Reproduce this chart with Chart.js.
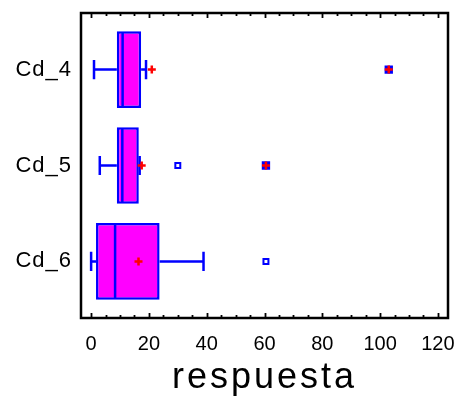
<!DOCTYPE html>
<html>
<head>
<meta charset="utf-8">
<script src="https://cdn.jsdelivr.net/npm/chart.js@4"></script>
<style>
  body { margin: 0; background: #fff; }
  #wrap { width: 456px; height: 397px; }
</style>
</head>
<body>
<div id="wrap"><canvas id="boxChart" width="456" height="397"></canvas></div>
<script>
// box plot values
const categories = ["Cd_4", "Cd_5", "Cd_6"];
const whiskerLow = [1, 3, 0];
const q1 = [8.9, 8.9, 1.7];
const median = [10.9, 10.8, 8.3];
const q3 = [17.3, 16.5, 23.7];
const whiskerHigh = [19, 16.8, 38.9];
const means = [21, 17.5, 16.4];
const outsidePoints = [[], [30], [60.5]];
const farOutsidePoints = [[103], [60.5], []];
const xTicks = [0, 20, 40, 60, 80, 100, 120];

const BLUE = "#0000ff";
const MAGENTA = "#ff00ff";
const RED = "#ff0000";
const FONT = "'Liberation Sans', Arial, sans-serif";

const pts = (lists) => lists.flatMap((l, i) => l.map(v => ({ x: v, y: i + 1 })));
const noPad = (s) => { s.paddingLeft = s.paddingRight = s.paddingTop = s.paddingBottom = 0; };

// the original text is drawn a bit wider, so space out the letters of one draw step
function spaced(s, method, px) {
  if (s["_sp_" + method]) return;
  const orig = s[method].bind(s);
  s[method] = (...a) => {
    s.ctx.letterSpacing = px + "px";
    orig(...a);
    s.ctx.letterSpacing = "0px";
  };
  s["_sp_" + method] = true;
}

// whiskers, caps and medians, drawn right after the boxes
const boxParts = {
  id: "boxParts",
  afterDatasetDraw(chart, args) {
    if (args.meta.type !== "bar") return;
    const c = chart.ctx, xs = chart.scales.x, ys = chart.scales.y;
    c.save();
    c.strokeStyle = BLUE;
    c.lineWidth = 2.5;
    categories.forEach((cat, i) => {
      const y = ys.getPixelForValue(i + 1);
      const capTop = ys.getPixelForValue(i + 1 - 0.1);
      const capBot = ys.getPixelForValue(i + 1 + 0.1);
      const boxTop = ys.getPixelForValue(i + 1 - 0.39);
      const boxBot = ys.getPixelForValue(i + 1 + 0.39);
      c.beginPath();
      c.moveTo(xs.getPixelForValue(whiskerLow[i]), y);
      c.lineTo(xs.getPixelForValue(q1[i]), y);
      c.moveTo(xs.getPixelForValue(q3[i]), y);
      c.lineTo(xs.getPixelForValue(whiskerHigh[i]), y);
      [whiskerLow[i], whiskerHigh[i]].forEach(v => {
        c.moveTo(xs.getPixelForValue(v), capTop);
        c.lineTo(xs.getPixelForValue(v), capBot);
      });
      c.moveTo(xs.getPixelForValue(median[i]), boxTop);
      c.lineTo(xs.getPixelForValue(median[i]), boxBot);
      c.stroke();
    });
    c.restore();
  }
};

// black frame with inward ticks on top and bottom
const frame = {
  id: "frame",
  afterDraw(chart) {
    const c = chart.ctx, a = chart.chartArea, xs = chart.scales.x;
    c.save();
    c.strokeStyle = "#000";
    c.lineWidth = 1.8;
    for (let v = 0; v <= 120; v += 5) {
      const x = Math.round(xs.getPixelForValue(v)) + 0.5;
      const len = v % 20 === 0 ? 5 : 3;
      c.beginPath();
      c.moveTo(x, a.top);
      c.lineTo(x, a.top + len);
      c.moveTo(x, a.bottom);
      c.lineTo(x, a.bottom - len);
      c.stroke();
    }
    c.lineWidth = 2.5;
    c.strokeRect(a.left, a.top, a.right - a.left, a.bottom - a.top);
    c.restore();
  }
};

new Chart(document.getElementById("boxChart"), {
  data: {
    datasets: [
      {
        type: "scatter",
        label: "far outside mark",
        data: pts(farOutsidePoints),
        pointStyle: "cross",
        radius: 4,
        borderColor: RED,
        borderWidth: 2.5
      },
      {
        type: "scatter",
        label: "mean",
        data: means.map((m, i) => ({ x: m, y: i + 1 })),
        pointStyle: "cross",
        radius: 4,
        borderColor: RED,
        borderWidth: 2.5
      },
      {
        type: "scatter",
        label: "far outside",
        data: pts(farOutsidePoints),
        pointStyle: "rect",
        radius: 4.5,
        backgroundColor: BLUE,
        borderColor: BLUE,
        borderWidth: 2
      },
      {
        type: "scatter",
        label: "outside",
        data: pts(outsidePoints),
        pointStyle: "rect",
        radius: 3.5,
        backgroundColor: "#fff",
        borderColor: BLUE,
        borderWidth: 2
      },
      {
        type: "bar",
        label: "box",
        indexAxis: "y",
        data: categories.map((c, i) => ({ x: [q1[i], q3[i]], y: i + 1 })),
        backgroundColor: MAGENTA,
        borderColor: BLUE,
        borderWidth: 2.5,
        borderSkipped: false,
        categoryPercentage: 1,
        barPercentage: 0.8
      }
    ]
  },
  options: {
    responsive: false,
    animation: false,
    layout: { padding: { top: 13, right: 8, left: 0, bottom: 0 } },
    plugins: { legend: { display: false }, tooltip: { enabled: false } },
    scales: {
      x: {
        type: "linear",
        position: "bottom",
        offset: false,
        min: -3.5,
        max: 123.5,
        grid: { display: false, drawTicks: false },
        border: { display: false },
        afterBuildTicks: (s) => { s.ticks = xTicks.map(v => ({ value: v })); },
        afterFit: (s) => { s.height = 79; noPad(s); spaced(s, "drawTitle", 3); },
        ticks: {
          color: "#000",
          padding: 14,
          maxRotation: 0,
          font: { family: FONT, size: 20 }
        },
        title: {
          display: true,
          text: "respuesta",
          color: "#000",
          padding: { top: 0, bottom: 1 },
          font: { family: FONT, size: 36, lineHeight: 1 }
        }
      },
      y: {
        type: "linear",
        position: "left",
        offset: false,
        reverse: true,
        min: 0.41,
        max: 3.59,
        grid: { display: false, drawTicks: false },
        border: { display: false },
        afterBuildTicks: (s) => { s.ticks = categories.map((c, i) => ({ value: i + 1 })); },
        afterFit: (s) => { s.width = 81; noPad(s); spaced(s, "drawLabels", 1); },
        ticks: {
          color: "#000",
          padding: 9,
          font: { family: FONT, size: 22 },
          callback: (v) => categories[v - 1]
        }
      }
    }
  },
  plugins: [boxParts, frame]
});
</script>
</body>
</html>
